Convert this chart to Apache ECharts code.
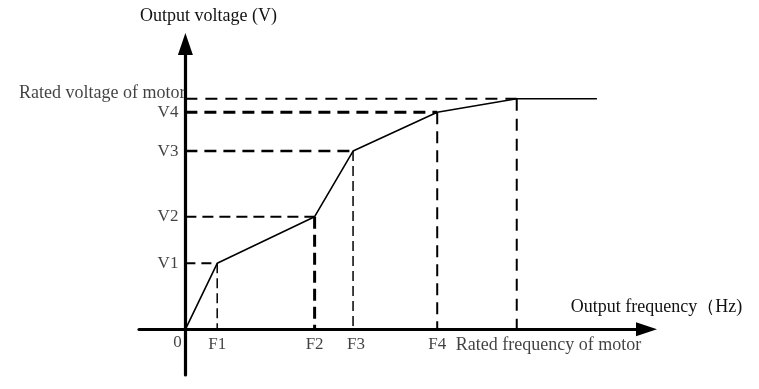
<!DOCTYPE html>
<html>
<head>
<meta charset="utf-8">
<script src="https://cdn.jsdelivr.net/npm/echarts@6/dist/echarts.min.js"></script>
<style>html,body{margin:0;padding:0;background:#fff;}#c{width:759px;height:389px;}</style>
</head>
<body>
<div id="c"></div>
<script>
// Data (frequency in Hz, voltage in V)
const freqLabels = ['F1', 'F2', 'F3', 'F4', 'Rated frequency of motor'];
const freqValues = [4.8, 19.5, 25.3, 38.0, 50];
const voltLabels = ['V1', 'V2', 'V3', 'V4', 'Rated voltage of motor'];
const voltValues = [108.8, 185.6, 293.8, 357.6, 380];
const curveEndFreq = 62.1;
const xName = 'Output frequency（Hz)';
const yName = 'Output voltage (V)';
const originLabel = '0';

// Styles (not data)
const hStyles = [
  {w: 2, d: [10, 6]}, {w: 2, d: [11, 6]}, {w: 2.5, d: [12, 7]}, {w: 3, d: [12, 7]}, {w: 2, d: [12, 8]}
];
const vStyles = [
  {w: 1.5, d: [10, 5]}, {w: 3, d: [12, 6]}, {w: 1.5, d: [10, 5]}, {w: 2, d: [12, 7]}, {w: 2, d: [12, 8]}
];
const xLabelOffsets = [[0, 0], [0, 0], [3, 0], [0, 0], [-61, 0]];
const xLabelAlign = ['center', 'center', 'center', 'center', 'left'];
const yLabelOffsets = [[0, 0], [0, 0], [0, 0], [0, 0], [7, -5]];

const serif = '"Liberation Serif", "Times New Roman", serif';
const textColor = '#111';

const curve = [[0, 0]];
freqValues.forEach((f, i) => curve.push([f, voltValues[i]]));
curve.push([curveEndFreq, voltValues[voltValues.length - 1]]);

const series = [];
freqValues.forEach((f, i) => {
  const v = voltValues[i];
  series.push({
    type: 'line', data: [[0, v], [f, v]], symbol: 'none', silent: true, z: 2,
    lineStyle: {color: '#000', width: hStyles[i].w, type: hStyles[i].d}
  });
  series.push({
    type: 'line', data: [[f, v], [f, 0]], symbol: 'none', silent: true, z: 2,
    lineStyle: {color: '#000', width: vStyles[i].w, type: vStyles[i].d}
  });
});
series.push({
  type: 'line', data: curve, symbol: 'none', silent: true, z: 3,
  lineStyle: {color: '#000', width: 1.6}
});
// frequency labels
series.push({
  type: 'scatter', symbolSize: 0, silent: true, z: 5,
  data: freqValues.map((f, i) => ({
    value: [f, 0],
    label: {
      show: true, position: 'bottom', distance: 7, formatter: freqLabels[i],
      offset: xLabelOffsets[i], align: xLabelAlign[i],
      fontFamily: serif, fontSize: i === 4 ? 18 : 17, color: textColor
    }
  })).concat([{
    value: [0, 0],
    label: {show: true, position: 'bottom', distance: 5, formatter: originLabel, offset: [-8, 0],
      fontFamily: serif, fontSize: 17, color: textColor}
  }])
});
// voltage labels
series.push({
  type: 'scatter', symbolSize: 0, silent: true, z: 5,
  data: voltValues.map((v, i) => ({
    value: [0, v],
    label: {
      show: true, position: 'left', distance: 7, formatter: voltLabels[i],
      offset: yLabelOffsets[i],
      fontFamily: serif, fontSize: i === 4 ? 18 : 17, color: textColor
    }
  }))
});

const chart = echarts.init(document.getElementById('c'), null, {renderer: 'canvas'});
chart.setOption({
  animation: false,
  backgroundColor: '#fff',
  grid: {left: 139, right: 112.5, top: 44, bottom: 14, containLabel: false, outerBoundsMode: 'none'},
  xAxis: {
    type: 'value', min: -7, max: 69.58,
    name: xName, nameLocation: 'end', nameGap: 10,
    nameTextStyle: {fontFamily: serif, fontSize: 18, color: textColor, align: 'center', verticalAlign: 'bottom', padding: [0, 0, 13, 0]},
    axisLine: {show: true, onZero: true, symbol: ['none', 'triangle'], symbolSize: [14, 21], lineStyle: {color: '#000', width: 3.2}},
    axisTick: {show: false}, axisLabel: {show: false}, splitLine: {show: false}
  },
  yAxis: {
    type: 'value', min: -75.3, max: 470.2,
    name: yName, nameLocation: 'end', nameGap: 19,
    nameTextStyle: {fontFamily: serif, fontSize: 18, color: textColor, padding: [0, 0, 0, 46]},
    axisLine: {show: true, onZero: true, symbol: ['none', 'triangle'], symbolSize: [15, 22], lineStyle: {color: '#000', width: 3.2}},
    axisTick: {show: false}, axisLabel: {show: false}, splitLine: {show: false}
  },
  series: series
});
</script>
</body>
</html>
